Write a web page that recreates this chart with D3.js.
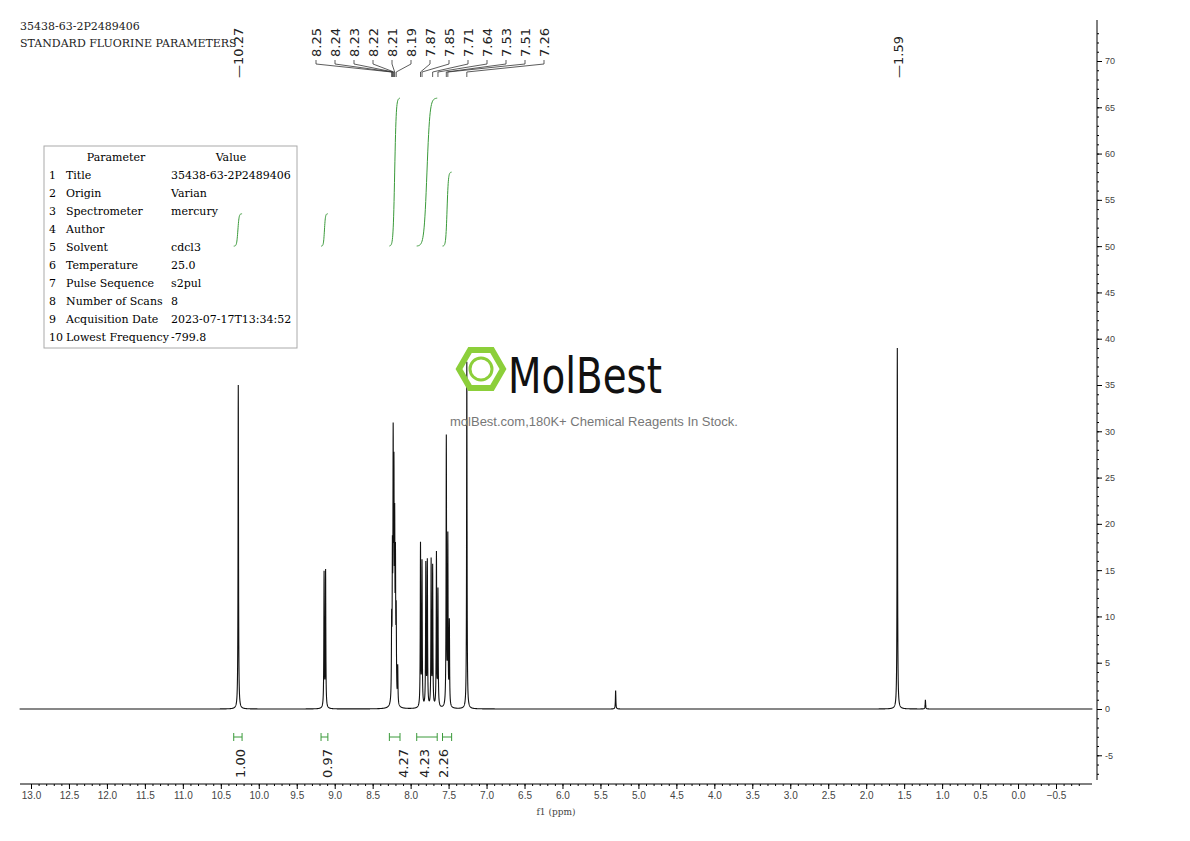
<!DOCTYPE html><html><head><meta charset="utf-8">
<script src="https://cdn.jsdelivr.net/npm/d3@7"></script>
<style>body{margin:0;background:#fff}svg{font-family:"DejaVu Serif","Liberation Serif",serif}</style></head><body>
<svg id="c" width="1190" height="841"></svg>
<script>
const peakPos=[10.27,9.14,9.12,8.25,8.24,8.23,8.22,8.21,8.20,8.19,8.17,7.87,7.85,7.80,7.78,7.73,7.71,7.66,7.64,7.53,7.51,7.49,7.26,5.30,1.59,1.22];
const peakH=[35,14.5,14.7,8,14,26,22,17,14,9,4,17.5,15.5,15.3,15.6,15.7,15.0,16.5,12.5,29,18,9,37.5,2.0,39,1.0];
const labels=["10.27","8.25","8.24","8.23","8.22","8.21","8.19","7.87","7.85","7.71","7.64","7.53","7.51","7.26","1.59"];
const labelAt=[10.27,8.25,8.24,8.23,8.22,8.21,8.19,7.87,7.85,7.71,7.64,7.53,7.51,7.26,1.59];
const integStart=[10.33,9.18,8.28,7.92,7.58];
const integEnd=[10.22,9.09,8.14,7.65,7.46];
const integTop=[53.5,53.5,66,66,58];
const integVals=["1.00","0.97","4.27","4.23","2.26"];
const xTicks=d3.range(13,-0.51,-0.5);
const yTicks=d3.range(-5,71,5);
const params=[["Title","35438-63-2P2489406"],["Origin","Varian"],["Spectrometer","mercury"],["Author",""],["Solvent","cdcl3"],["Temperature","25.0"],["Pulse Sequence","s2pul"],["Number of Scans","8"],["Acquisition Date","2023-07-17T13:34:52"],["Lowest Frequency","-799.8"]];

const svg=d3.select("#c");
const x=d3.scaleLinear().domain([13.0,-0.5]).range([31,1056]);
const y=d3.scaleLinear().domain([0,70]).range([709,61]);

svg.append("rect").attr("x",44).attr("y",146).attr("width",253).attr("height",202).attr("fill","#fff").attr("stroke","#aaa");
svg.append("text").attr("x",116).attr("y",161).attr("text-anchor","middle").style("font-size","11px").text("Parameter");
svg.append("text").attr("x",231).attr("y",161).attr("text-anchor","middle").style("font-size","11px").text("Value");
params.forEach((p,i)=>{const yy=179+i*18;
  svg.append("text").attr("x",49).attr("y",yy).style("font-size","11px").text(i+1);
  svg.append("text").attr("x",66).attr("y",yy).style("font-size","11px").text(p[0]);
  svg.append("text").attr("x",171).attr("y",yy).style("font-size","11px").text(p[1]);});

const w=0.0035;
const grid=d3.range(13.15,-0.98,-0.001);
const spec=grid.map(p=>[p,peakPos.reduce((s,c,i)=>s+peakH[i]*w*w/((p-c)*(p-c)+w*w),0)]);
svg.append("path").attr("d",d3.line().x(d=>x(d[0])).y(d=>y(d[1]))(spec)).attr("fill","none").attr("stroke","#111").attr("stroke-width",1.1);

const xa=svg.append("g").attr("transform","translate(0,784)").call(d3.axisBottom(x).tickValues(xTicks).tickFormat(d3.format(".1f")).tickSize(5));
xa.select(".domain").attr("d","M20,0H1092");
xa.selectAll("text").style("font-size","10px").attr("fill","#444");
svg.append("g").attr("transform","translate(0,784)").call(d3.axisBottom(x).tickValues(d3.range(13,-0.9,-0.1)).tickFormat("").tickSize(2)).select(".domain").remove();
svg.append("text").attr("x",556).attr("y",815).attr("text-anchor","middle").style("font-size","9px").attr("fill","#444").text("f1 (ppm)");
const ya=svg.append("g").attr("transform","translate(1097,0)").call(d3.axisRight(y).tickValues(yTicks).tickSize(5).tickFormat(d=>d));
ya.select(".domain").attr("d","M0,20V780");
ya.selectAll("text").style("font-size","9px").attr("fill","#444");
svg.append("g").attr("transform","translate(1097,0)").call(d3.axisRight(y).tickValues(d3.range(-7,74,1)).tickFormat("").tickSize(2)).select(".domain").remove();

const lx=[238,316,335,354,373,392,411,430,449,468,487,506,525,544,898];
labels.forEach((t,i)=>{
  svg.append("text").attr("transform",`translate(${lx[i]+5},${i==0||i==14?78:57}) rotate(-90)`).style("font-size","13px").style("font-family","DejaVu Sans").attr("fill","#222").text((i==0||i==14?"—":"")+t);
  if(i>0&&i<14){
    const px=x(labelAt[i]);
    svg.append("path").attr("d",`M${lx[i]},60V64L${px},72V77`).attr("fill","none").attr("stroke","#333").attr("stroke-width",0.8);
  }
});
integStart.forEach((s,i)=>{
  const e=integEnd[i], top=integTop[i];
  const pts=d3.range(0,1.001,0.02).map(f=>[s+(e-s)*f, 50+(top-50)*(0.5+0.5*Math.tanh((f-0.5)*7))]);
  svg.append("path").attr("d",d3.line().x(d=>x(d[0])).y(d=>y(d[1]))(pts)).attr("fill","none").attr("stroke","#3a9a3a").attr("stroke-width",1);
  const a=x(s),b=x(e),yy=737;
  svg.append("path").attr("d",`M${a},${yy}H${b}M${a},${yy-4}V${yy+4}M${b},${yy-4}V${yy+4}`).attr("stroke","#3a9a3a").attr("fill","none");
  const mx=[240,327,403,424,443][i];
  svg.append("text").attr("transform",`translate(${mx+5},778) rotate(-90)`).style("font-size","13px").style("font-family","DejaVu Sans").attr("fill","#222").text(integVals[i]);
});
svg.append("text").attr("x",20).attr("y",30).style("font-size","11px").attr("fill","#222").text("35438-63-2P2489406");
svg.append("text").attr("x",20).attr("y",47).style("font-size","11px").attr("fill","#222").text("STANDARD FLUORINE PARAMETERS");
const g=svg.append("g").attr("transform","translate(481,369)");
const hex=d3.range(6).map(k=>[22*Math.cos(Math.PI/3*k),22*Math.sin(Math.PI/3*k)]);
g.append("polygon").attr("points",hex.join(" ")).attr("fill","none").attr("stroke","#8ccf3a").attr("stroke-width",6);
g.append("circle").attr("r",11).attr("fill","none").attr("stroke","#8ccf3a").attr("stroke-width",3);
svg.append("text").attr("x",508).attr("y",393).style("font-size","50px").style("font-family","'Liberation Sans Narrow','DejaVu Sans Condensed',sans-serif").attr("textLength",154).attr("lengthAdjust","spacingAndGlyphs").attr("fill","#111").text("MolBest");
svg.append("text").attr("x",594).attr("y",426).attr("text-anchor","middle").style("font-size","13px").style("font-family","'Liberation Sans',sans-serif").attr("fill","#777").text("molBest.com,180K+ Chemical Reagents In Stock.");
</script></body></html>
